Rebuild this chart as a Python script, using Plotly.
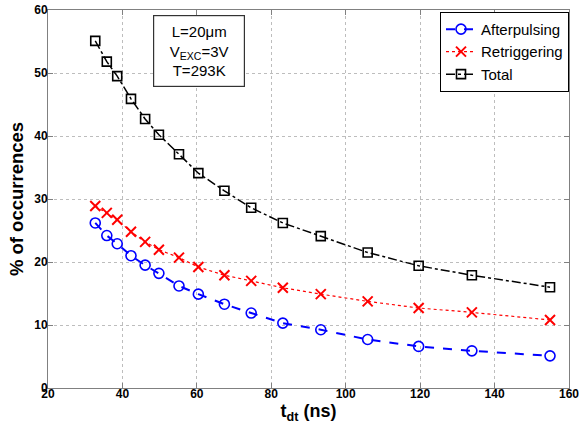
import plotly.graph_objects as go

t_dt = [32.7, 35.8, 38.6, 42.3, 46.1, 49.8, 55.2, 60.4, 67.4, 74.6, 83.1, 93.3, 105.9, 119.6, 133.9, 154.9]
afterpulsing = [26.2, 24.2, 22.9, 21.0, 19.5, 18.2, 16.2, 14.9, 13.3, 11.9, 10.3, 9.25, 7.7, 6.6, 5.9, 5.1]
retriggering = [28.9, 27.8, 26.7, 24.8, 23.2, 21.95, 20.7, 19.2, 17.9, 17.0, 15.9, 14.9, 13.75, 12.7, 12.0, 10.8]
total = [55.1, 51.8, 49.5, 45.9, 42.7, 40.2, 37.1, 34.1, 31.3, 28.6, 26.2, 24.1, 21.5, 19.4, 17.9, 16.0]

x_ticks = [20, 40, 60, 80, 100, 120, 140, 160]
y_ticks = [0, 10, 20, 30, 40, 50, 60]

fig = go.Figure()
fig.add_trace(go.Scatter(
    x=t_dt, y=afterpulsing, name="Afterpulsing", mode="lines+markers",
    line=dict(color="#0000ff", width=2, dash="dash"),
    marker=dict(symbol="circle-open", size=10, color="#0000ff", line=dict(width=1.6, color="#0000ff")),
))
fig.add_trace(go.Scatter(
    x=t_dt, y=retriggering, name="Retriggering", mode="lines+markers",
    line=dict(color="#ff0000", width=1.2, dash="dot"),
    marker=dict(symbol="x-thin-open", size=10, color="#ff0000", line=dict(width=2, color="#ff0000")),
))
fig.add_trace(go.Scatter(
    x=t_dt, y=total, name="Total", mode="lines+markers",
    line=dict(color="#000000", width=1.5, dash="dashdot"),
    marker=dict(symbol="square-open", size=9, color="#000000", line=dict(width=1.6, color="#000000")),
))

axis_common = dict(
    showline=True, linecolor="#808080", linewidth=1, mirror="ticks",
    ticks="inside", ticklen=5, tickcolor="#808080",
    showgrid=True, gridcolor="#bdbdbd", griddash="dot", gridwidth=1,
    zeroline=False, automargin=False, ticklabeloverflow="allow",
    tickfont=dict(family="Liberation Sans, Arial", size=12, color="black", weight="bold"),
)

fig.update_layout(
    width=579, height=430,
    margin=dict(l=48, r=10, t=10, b=42, autoexpand=False),
    paper_bgcolor="white", plot_bgcolor="white",
    showlegend=True,
    legend=dict(
        x=1, xanchor="right", y=0.995, yanchor="top",
        bgcolor="white", bordercolor="black", borderwidth=1,
        font=dict(family="Liberation Sans, Arial", size=15, color="black"),
        itemwidth=30, tracegroupgap=0,
    ),
    xaxis=dict(
        range=[20, 160], tickvals=x_ticks, ticktext=[str(v) for v in x_ticks],
        ticklabelstandoff=-5,
        title=dict(text="t<sub>dt</sub> (ns)", standoff=2,
                   font=dict(family="Liberation Sans, Arial", size=18, color="black", weight="bold")),
        **axis_common,
    ),
    yaxis=dict(
        range=[0, 60], tickvals=y_ticks, ticktext=[str(v) for v in y_ticks],
        ticklabelstandoff=-3,
        title=dict(text="% of occurrences", standoff=5,
                   font=dict(family="Liberation Sans, Arial", size=18.5, color="black", weight="bold")),
        **axis_common,
    ),
    annotations=[dict(
        xref="paper", yref="paper", x=0.289, y=0.891, xanchor="center", yanchor="middle",
        text="L=20μm<br>V<sub>EXC</sub>=3V<br>T=293K",
        showarrow=False, align="center",
        font=dict(family="Liberation Sans, Arial", size=15, color="black"),
        bgcolor="white", bordercolor="#333333", borderwidth=1.2, borderpad=4,
        width=82, height=62,
    )],
)

fig.write_html("out.html", config={"displayModeBar": False},
               post_script="document.body.style.margin='0px';document.body.style.overflow='hidden';")
